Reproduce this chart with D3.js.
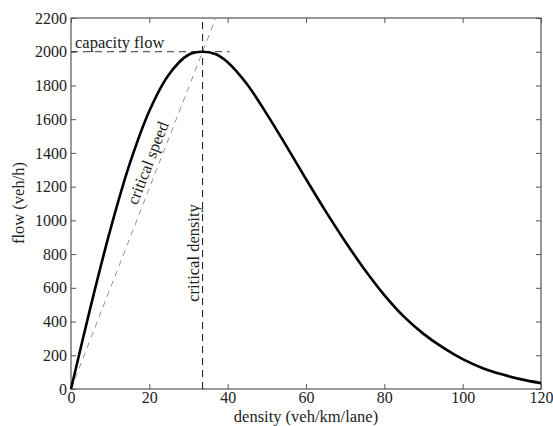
<!DOCTYPE html>
<html><head><meta charset="utf-8">
<script src="https://cdn.jsdelivr.net/npm/d3@7"></script>
</head>
<body style="margin:0;background:#fff"><svg id="c" width="553" height="426"></svg>
<script>
const density = [0,5,10,15,20,25,30,33.6,37,40,45,50,55,60,65,70,75,80,85,90,95,100,105,110,115,120];
const flow = [0,487,941,1336,1649,1865,1982,2000,1985,1938,1806,1630,1440,1245,1055,875,707,557,429,327,245,177,125,87,57,35];
const xTicks = [0,20,40,60,80,100,120];
const yTicks = [0,200,400,600,800,1000,1200,1400,1600,1800,2000,2200];
const criticalDensity = 33.6;
const capacityFlow = 2000;
const capacityLineEnd = 40.5;

const FONT = "Liberation Serif";
const svg = d3.select("#c");
const m = {l:71, r:12, t:18, b:37};
const W = 553, H = 426;
const x = d3.scaleLinear().domain([0,120]).range([m.l, W-m.r]);
const y = d3.scaleLinear().domain([0,2200]).range([H-m.b, m.t]);

svg.append("rect").attr("x",x(0)).attr("y",y(2200)).attr("width",x(120)-x(0)).attr("height",y(0)-y(2200))
  .attr("fill","none").attr("stroke","#555").attr("stroke-width",1.2);

const tl = 5;
const fmt = d3.format("d");
function styleTicks(g){
  g.attr("font-family",FONT);
  g.select(".domain").remove();
  g.selectAll("line").attr("stroke","#555");
  g.selectAll("text").attr("font-family",FONT).attr("font-size",16).attr("fill","#222");
}
svg.append("g").attr("transform",`translate(0,${y(0)})`)
  .call(d3.axisBottom(x).tickValues(xTicks).tickFormat(fmt).tickSizeInner(-tl).tickSizeOuter(0).tickPadding(3))
  .call(styleTicks);
svg.append("g").attr("transform",`translate(0,${y(2200)})`)
  .call(d3.axisTop(x).tickValues(xTicks).tickSizeInner(-tl).tickSizeOuter(0).tickFormat(""))
  .call(styleTicks);
svg.append("g").attr("transform",`translate(${x(0)},0)`)
  .call(d3.axisLeft(y).tickValues(yTicks).tickFormat(fmt).tickSizeInner(-tl).tickSizeOuter(0).tickPadding(4))
  .call(styleTicks);
svg.append("g").attr("transform",`translate(${x(120)},0)`)
  .call(d3.axisRight(y).tickValues(yTicks).tickSizeInner(-tl).tickSizeOuter(0).tickFormat(""))
  .call(styleTicks);

const vc = capacityFlow/criticalDensity;
const kTop = 2200/vc;
svg.append("line").attr("x1",x(0)).attr("y1",y(0)).attr("x2",x(kTop)).attr("y2",y(2200))
  .attr("stroke","#888").attr("stroke-width",0.9).attr("stroke-dasharray","6,5");

svg.append("line").attr("x1",x(0)).attr("y1",y(capacityFlow)).attr("x2",x(capacityLineEnd)).attr("y2",y(capacityFlow))
  .attr("stroke","#333").attr("stroke-width",1).attr("stroke-dasharray","7,5");

svg.append("line").attr("x1",x(criticalDensity)).attr("y1",y(0)).attr("x2",x(criticalDensity)).attr("y2",y(2200))
  .attr("stroke","#111").attr("stroke-width",1).attr("stroke-dasharray","7,5");

const pts = density.map((d,i)=>[d,flow[i]]);
svg.append("path").datum(pts)
  .attr("d",d3.line().x(d=>x(d[0])).y(d=>y(d[1])).curve(d3.curveCatmullRom.alpha(0.5)))
  .attr("fill","none").attr("stroke","#000").attr("stroke-width",2.6);

function label(t){ return svg.append("text").attr("font-family",FONT).attr("font-size",16.5).attr("fill","#222").text(t); }
label("capacity flow").attr("x",75).attr("y",48);
const ang = Math.atan2(y(2200)-y(0), x(kTop)-x(0))*180/Math.PI;
label("critical speed").attr("transform",`translate(153,165) rotate(${ang})`).attr("text-anchor","middle");
label("critical density").attr("transform",`translate(199,253) rotate(-90)`).attr("text-anchor","middle");
label("flow (veh/h)").attr("transform",`translate(24,203) rotate(-90)`).attr("text-anchor","middle");
label("density (veh/km/lane)").attr("x",306).attr("y",422).attr("text-anchor","middle");
</script></body></html>
